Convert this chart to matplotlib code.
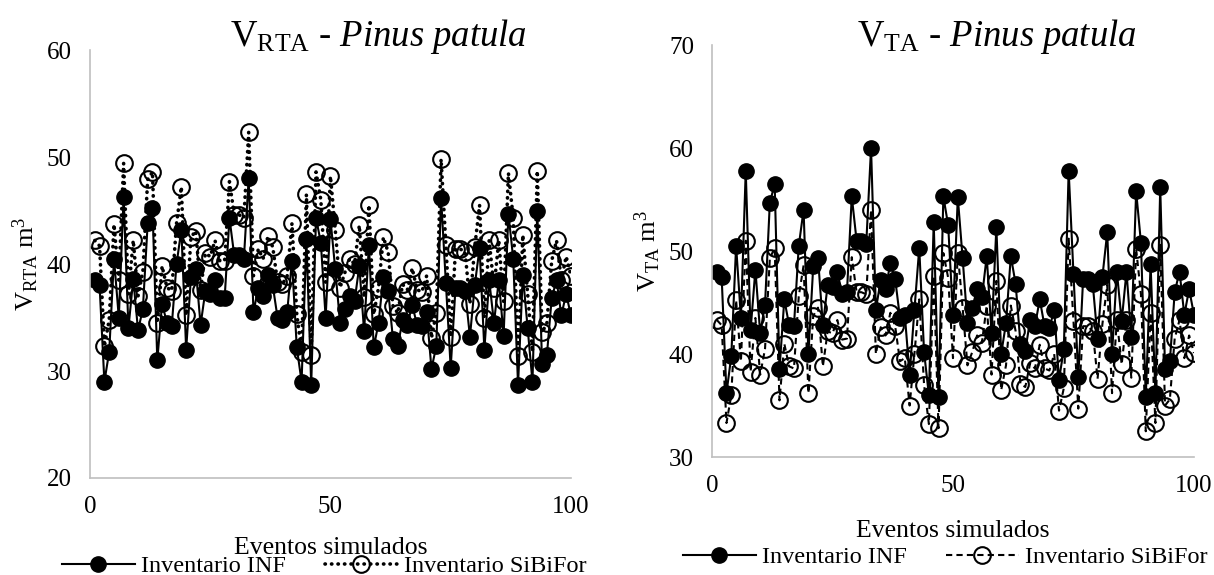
import numpy as np
import matplotlib
matplotlib.use("Agg")
import matplotlib.pyplot as plt
from matplotlib.lines import Line2D

plt.rcParams['font.family'] = ['Liberation Serif', 'DejaVu Serif']
plt.rcParams['mathtext.fontset'] = 'custom'
plt.rcParams['mathtext.rm'] = 'Liberation Serif'
plt.rcParams['mathtext.it'] = 'Liberation Serif:italic'

# Simulated events 1..100
eventos = np.arange(1, 101)

# V_RTA, Pinus patula
rta_inf = [38.5, 38.0, 29.0, 31.8, 40.5, 35.0, 46.3, 34.0, 38.6, 33.8,
           35.8, 43.8, 45.2, 31.0, 36.3, 34.5, 34.2, 40.0, 43.2, 32.0,
           38.8, 39.5, 34.3, 37.5, 37.2, 38.5, 36.8, 36.8, 44.3, 40.8,
           40.8, 40.5, 48.0, 35.5, 37.8, 37.0, 39.0, 38.0, 35.0, 34.8,
           35.5, 40.3, 32.2, 29.0, 42.3, 28.7, 44.3, 42.0, 35.0, 44.2,
           39.5, 34.5, 35.8, 37.0, 36.5, 39.8, 33.7, 41.8, 32.2, 34.5,
           38.8, 37.5, 33.0, 32.3, 34.8, 34.3, 36.2, 34.3, 34.2, 35.5,
           30.2, 32.3, 46.2, 38.2, 30.3, 37.8, 37.8, 37.5, 33.2, 38.0,
           41.5, 32.0, 38.5, 34.5, 38.5, 33.3, 44.7, 40.5, 28.7, 39.0,
           34.0, 29.0, 45.0, 30.7, 31.5, 36.8, 38.5, 35.2, 37.2, 35.2]

rta_sibifor = [42.2, 41.7, 32.3, 34.8, 43.7, 38.5, 49.4, 37.2, 42.2, 37.0,
               39.3, 47.9, 48.6, 34.5, 39.8, 37.8, 37.5, 43.8, 47.2, 35.2,
               42.5, 43.1, 37.6, 41.0, 40.7, 42.2, 40.3, 40.3, 47.7, 44.6,
               44.6, 44.3, 52.3, 38.9, 41.4, 40.5, 42.6, 41.6, 38.3, 38.1,
               38.9, 43.8, 35.3, 31.8, 46.5, 31.5, 48.6, 46.0, 38.3, 48.2,
               43.2, 37.8, 39.2, 40.5, 40.0, 43.6, 36.9, 45.5, 35.3, 37.8,
               42.5, 41.1, 36.1, 35.4, 38.1, 37.6, 39.6, 37.6, 37.4, 38.9,
               33.1, 35.4, 49.8, 41.8, 33.2, 41.4, 41.4, 41.1, 36.3, 41.6,
               45.5, 35.0, 42.2, 37.8, 42.2, 36.5, 48.5, 44.3, 31.4, 42.7,
               37.2, 31.8, 48.7, 33.6, 34.5, 40.3, 42.2, 38.5, 40.7, 38.9]

# V_TA, Pinus patula
ta_inf = [48.0, 47.5, 36.2, 39.8, 50.5, 43.5, 57.8, 42.3, 48.2, 42.0,
          44.8, 54.7, 56.5, 38.5, 45.3, 42.8, 42.7, 50.5, 54.0, 40.0,
          48.5, 49.3, 42.8, 46.7, 46.5, 48.0, 45.8, 46.0, 55.3, 51.0,
          51.0, 50.7, 60.0, 44.3, 47.2, 46.3, 48.8, 47.3, 43.5, 43.8,
          38.0, 44.3, 50.3, 40.2, 36.0, 52.8, 35.8, 55.3, 52.5, 43.8,
          55.2, 49.3, 43.0, 44.5, 46.3, 45.5, 49.5, 42.0, 52.3, 40.0,
          43.0, 49.5, 46.8, 41.0, 40.3, 43.3, 42.7, 45.3, 42.7, 42.5,
          44.3, 37.5, 40.5, 57.8, 47.8, 37.8, 47.3, 47.3, 46.8, 41.5,
          47.5, 51.8, 40.0, 48.0, 43.2, 48.0, 41.7, 55.8, 50.8, 35.8,
          48.7, 36.2, 56.2, 38.5, 39.3, 46.0, 48.0, 43.8, 46.3, 43.8]

ta_sibifor = [43.3, 42.8, 33.3, 36.0, 45.2, 39.3, 51.0, 38.3, 43.5, 38.0,
              40.5, 49.3, 50.3, 35.5, 41.0, 38.8, 38.6, 45.6, 48.6, 36.2,
              43.7, 44.5, 38.8, 42.2, 42.0, 43.3, 41.4, 41.5, 49.4, 46.0,
              46.0, 45.8, 54.0, 40.0, 42.6, 41.8, 44.0, 42.7, 39.3, 39.6,
              35.0, 40.0, 45.3, 37.0, 33.2, 47.6, 32.8, 49.8, 47.4, 39.6,
              49.8, 44.5, 38.9, 40.2, 41.8, 41.1, 44.7, 38.0, 47.1, 36.5,
              38.9, 44.7, 42.2, 37.1, 36.8, 39.1, 38.6, 40.9, 38.6, 38.4,
              40.0, 34.5, 36.7, 51.2, 43.2, 34.7, 42.7, 42.7, 42.2, 37.6,
              42.9, 46.7, 36.2, 43.3, 39.0, 43.3, 37.7, 50.2, 45.8, 32.5,
              44.0, 33.3, 50.6, 35.0, 35.6, 41.5, 43.3, 39.6, 41.8, 40.1]

fig = plt.figure(figsize=(12.14, 5.75), dpi=100)

ax1 = fig.add_axes([0.0741, 0.1687, 0.3962, 0.7443])
ax2 = fig.add_axes([0.5865, 0.2052, 0.3970, 0.7165])

DOTS = (0, (0.1, 1.7))
DASH = (0, (3.0, 2.0))


def style_axes(ax, ylim, yticks):
    ax.set_xlim(0, 100)
    ax.set_ylim(*ylim)
    ax.set_xticks([0, 50, 100])
    ax.set_yticks(yticks)
    for s in ['top', 'right']:
        ax.spines[s].set_visible(False)
    for s in ['left', 'bottom']:
        ax.spines[s].set_color('#bfbfbf')
        ax.spines[s].set_linewidth(1.2)
    ax.tick_params(length=0, labelsize=18, pad=13)
    ax.patch.set_alpha(0)


# left chart: solid + dotted
ax1.plot(eventos, rta_inf, color='black', lw=1.5, marker='o', ms=11,
         mfc='black', mec='black')
ax1.plot(eventos, rta_sibifor, color='black', lw=2.6, linestyle=DOTS,
         dash_capstyle='round', marker='o', ms=12, mfc='none',
         mec='black', mew=1.5)
style_axes(ax1, (20, 60), [20, 30, 40, 50, 60])
ax1.set_ylabel(r'$\mathrm{V_{RTA}\ m^3}$', fontsize=19, labelpad=4)

# right chart: solid + dashed
ax2.plot(eventos, ta_inf, color='black', lw=1.5, marker='o', ms=11,
         mfc='black', mec='black')
ax2.plot(eventos, ta_sibifor, color='black', lw=1.5, linestyle=DASH,
         marker='o', ms=12, mfc='none', mec='black', mew=1.5)
style_axes(ax2, (30, 70), [30, 40, 50, 60, 70])
ax2.set_ylabel(r'$\mathrm{V_{TA}\ m^3}$', fontsize=19, labelpad=4)

# titles
fig.text(378 / 1214, 1 - 36 / 575, r'$\mathrm{V_{RTA}}$ - $\it{Pinus\ patula}$',
         fontsize=26.5, ha='center', va='center')
fig.text(997 / 1214, 1 - 36 / 575, r'$\mathrm{V_{TA}}$ - $\it{Pinus\ patula}$',
         fontsize=26.5, ha='center', va='center')

# x labels
fig.text(331 / 1214, 1 - 548 / 575, 'Eventos simulados', fontsize=18.5,
         ha='center', va='center')
fig.text(953 / 1214, 1 - 531 / 575, 'Eventos simulados', fontsize=18.5,
         ha='center', va='center')

# legends
h_inf = Line2D([], [], color='black', lw=1.5, marker='o', ms=11)
h_sib_dot = Line2D([], [], color='black', lw=2.6, linestyle=DOTS,
                   dash_capstyle='round', marker='o', ms=12, mfc='none', mew=1.5)
h_sib_dash = Line2D([], [], color='black', lw=1.5, linestyle=DASH,
                    marker='o', ms=12, mfc='none', mew=1.5)

legend_kw = dict(loc='center', ncol=2, frameon=False, fontsize=17.5,
                 handlelength=3, handletextpad=0.25, columnspacing=1.6,
                 borderpad=0)
fig.legend([h_inf, h_sib_dot], ['Inventario INF', 'Inventario SiBiFor'],
           bbox_to_anchor=(324 / 1214, 1 - 566 / 575), **legend_kw)
fig.legend([h_inf, h_sib_dash], ['Inventario INF', 'Inventario SiBiFor'],
           bbox_to_anchor=(945 / 1214, 1 - 557 / 575), **legend_kw)

fig.savefig('out.png', dpi=100, facecolor='white')
